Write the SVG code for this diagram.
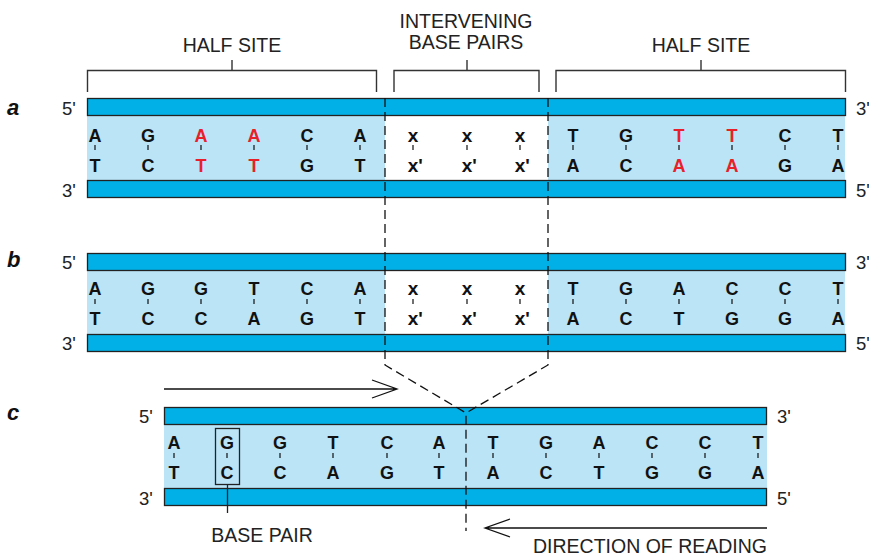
<svg xmlns="http://www.w3.org/2000/svg" width="869" height="557" viewBox="0 0 869 557">
<style>
.strand{fill:#00b0e6;stroke:#222;stroke-width:1.3}
.band{fill:#bbe4f7}
.lbl{font-family:"Liberation Sans",Arial,sans-serif;font-size:19.5px;fill:#222}
.end{font-family:"Liberation Sans",Arial,sans-serif;font-size:18.5px;fill:#222}
.sec{font-family:"Liberation Sans",Arial,sans-serif;font-size:22px;font-weight:bold;font-style:italic;fill:#111}
.b{font-family:"Liberation Sans",Arial,sans-serif;font-size:18px;font-weight:bold;fill:#111;text-anchor:middle}
.x{font-family:"Liberation Sans",Arial,sans-serif;font-size:19px;font-weight:bold;fill:#111}
.r{fill:#e8202a}
.tick{stroke:#111;stroke-width:1.2}
.br{fill:none;stroke:#333;stroke-width:1.4}
.dash{fill:none;stroke:#111;stroke-width:1.3;stroke-dasharray:9,5}
.arr{fill:none;stroke:#111;stroke-width:1.3}
</style>
<g id="labels-top">
<text class="lbl" x="232" y="52" text-anchor="middle">HALF SITE</text>
<text class="lbl" x="466" y="28" text-anchor="middle">INTERVENING</text>
<text class="lbl" x="466" y="49" text-anchor="middle">BASE PAIRS</text>
<text class="lbl" x="701" y="52" text-anchor="middle">HALF SITE</text>
</g>
<g id="brackets">
<path class="br" d="M87.5,92 V70.5 H376.5 V92 M232,70.5 V60"/>
<path class="br" d="M394,92 V70.5 H539 V92 M467,70.5 V60"/>
<path class="br" d="M556,92 V70.5 H845.5 V92 M701,70.5 V60"/>
</g>
<g id="section-a">
<text class="sec" x="7" y="115">a</text>
<rect class="band" x="87" y="116" width="298" height="64"/>
<rect class="band" x="548" y="116" width="297" height="64"/>
<rect class="strand" x="87.5" y="98.5" width="758" height="17"/>
<rect class="strand" x="87.5" y="180.5" width="758" height="17"/>
<text class="end" x="62" y="115">5'</text>
<text class="end" x="62" y="197">3'</text>
<text class="end" x="856" y="115">3'</text>
<text class="end" x="856" y="197">5'</text>
<g>
<text class="b" x="95" y="142">A</text><text class="b" x="148" y="142">G</text><text class="b r" x="201" y="142">A</text><text class="b r" x="254" y="142">A</text><text class="b" x="307" y="142">C</text><text class="b" x="360" y="142">A</text>
<text class="b" x="95" y="172">T</text><text class="b" x="148" y="172">C</text><text class="b r" x="201" y="172">T</text><text class="b r" x="254" y="172">T</text><text class="b" x="307" y="172">G</text><text class="b" x="360" y="172">T</text>
<text class="b" x="573" y="142">T</text><text class="b" x="626" y="142">G</text><text class="b r" x="679" y="142">T</text><text class="b r" x="732" y="142">T</text><text class="b" x="785" y="142">C</text><text class="b" x="838" y="142">T</text>
<text class="b" x="573" y="172">A</text><text class="b" x="626" y="172">C</text><text class="b r" x="679" y="172">A</text><text class="b r" x="732" y="172">A</text><text class="b" x="785" y="172">G</text><text class="b" x="838" y="172">A</text>
<text class="x" x="407.7" y="142">x</text><text class="x" x="461.7" y="142">x</text><text class="x" x="514.7" y="142">x</text>
<text class="x" x="407.7" y="172">x'</text><text class="x" x="461.7" y="172">x'</text><text class="x" x="514.7" y="172">x'</text>
<path class="tick" d="M95,145v5M148,145v5M201,145v5M254,145v5M307,145v5M360,145v5M413,145v5M467,145v5M520,145v5M573,145v5M626,145v5M679,145v5M732,145v5M785,145v5M838,145v5"/>
</g>
</g>
<g id="section-b">
<text class="sec" x="7" y="267">b</text>
<rect class="band" x="87" y="270" width="298" height="64"/>
<rect class="band" x="548" y="270" width="297" height="64"/>
<rect class="strand" x="87.5" y="253.5" width="758" height="17"/>
<rect class="strand" x="87.5" y="334.5" width="758" height="17"/>
<text class="end" x="62" y="269">5'</text>
<text class="end" x="62" y="350">3'</text>
<text class="end" x="856" y="269">3'</text>
<text class="end" x="856" y="350">5'</text>
<g>
<text class="b" x="95" y="295">A</text><text class="b" x="148" y="295">G</text><text class="b" x="201" y="295">G</text><text class="b" x="254" y="295">T</text><text class="b" x="307" y="295">C</text><text class="b" x="360" y="295">A</text>
<text class="b" x="95" y="325">T</text><text class="b" x="148" y="325">C</text><text class="b" x="201" y="325">C</text><text class="b" x="254" y="325">A</text><text class="b" x="307" y="325">G</text><text class="b" x="360" y="325">T</text>
<text class="b" x="573" y="295">T</text><text class="b" x="626" y="295">G</text><text class="b" x="679" y="295">A</text><text class="b" x="732" y="295">C</text><text class="b" x="785" y="295">C</text><text class="b" x="838" y="295">T</text>
<text class="b" x="573" y="325">A</text><text class="b" x="626" y="325">C</text><text class="b" x="679" y="325">T</text><text class="b" x="732" y="325">G</text><text class="b" x="785" y="325">G</text><text class="b" x="838" y="325">A</text>
<text class="x" x="407.7" y="295">x</text><text class="x" x="461.7" y="295">x</text><text class="x" x="514.7" y="295">x</text>
<text class="x" x="407.7" y="325">x'</text><text class="x" x="461.7" y="325">x'</text><text class="x" x="514.7" y="325">x'</text>
<path class="tick" d="M95,299v5M148,299v5M201,299v5M254,299v5M307,299v5M360,299v5M413,299v5M467,299v5M520,299v5M573,299v5M626,299v5M679,299v5M732,299v5M785,299v5M838,299v5"/>
</g>
</g>
<g id="section-c">
<text class="sec" x="7" y="420">c</text>
<rect class="band" x="164" y="424" width="603" height="64"/>
<rect class="strand" x="164.5" y="407.5" width="602" height="17"/>
<rect class="strand" x="164.5" y="488.5" width="602" height="17"/>
<text class="end" x="139" y="423">5'</text>
<text class="end" x="139" y="505">3'</text>
<text class="end" x="777" y="423">3'</text>
<text class="end" x="777" y="505">5'</text>
<g>
<text class="b" x="174" y="449">A</text><text class="b" x="227" y="449">G</text><text class="b" x="280" y="449">G</text><text class="b" x="333" y="449">T</text><text class="b" x="387" y="449">C</text><text class="b" x="439" y="449">A</text>
<text class="b" x="174" y="479">T</text><text class="b" x="227" y="479">C</text><text class="b" x="280" y="479">C</text><text class="b" x="333" y="479">A</text><text class="b" x="387" y="479">G</text><text class="b" x="439" y="479">T</text>
<text class="b" x="493" y="449">T</text><text class="b" x="546" y="449">G</text><text class="b" x="599" y="449">A</text><text class="b" x="652" y="449">C</text><text class="b" x="705" y="449">C</text><text class="b" x="758" y="449">T</text>
<text class="b" x="493" y="479">A</text><text class="b" x="546" y="479">C</text><text class="b" x="599" y="479">T</text><text class="b" x="652" y="479">G</text><text class="b" x="705" y="479">G</text><text class="b" x="758" y="479">A</text>
<path class="tick" d="M174,453v5M227,453v5M280,453v5M333,453v5M387,453v5M439,453v5M493,453v5M546,453v5M599,453v5M652,453v5M705,453v5M758,453v5"/>
</g>
</g>
<g id="base-pair">
<rect x="215.5" y="428.5" width="24" height="56" fill="none" stroke="#222" stroke-width="1.3"/>
<path d="M227.5,484.5V513" stroke="#222" stroke-width="1.3"/>
<text class="lbl" x="262" y="542" text-anchor="middle">BASE PAIR</text>
</g>
<g id="connectors">
<path class="dash" d="M385,98 V365 L466,413 V531"/>
<path class="dash" d="M548,98 V365 L466,413"/>
<path class="arr" d="M164,389 H397 M372,380 L397,389 L372,398"/>
<path class="arr" d="M767,528 H485 M510,519 L485,528 L510,537"/>
</g>
<text class="lbl" x="767" y="553" text-anchor="end">DIRECTION OF READING</text>
</svg>
